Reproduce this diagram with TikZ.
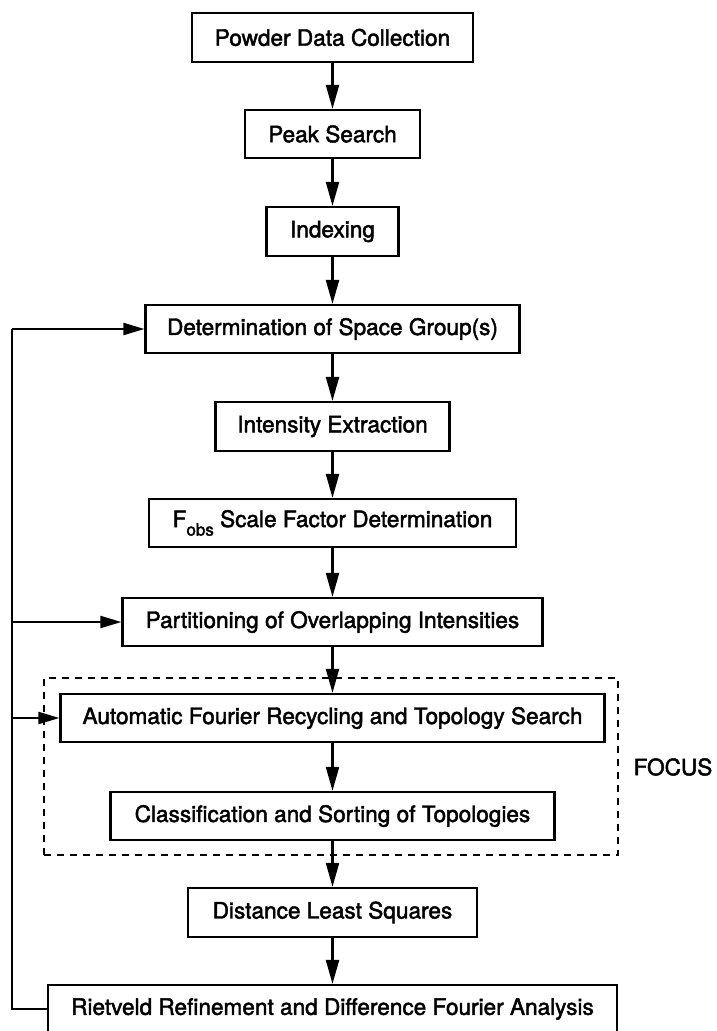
\documentclass[tikz,border=0pt]{standalone}
\usepackage{fontspec}
\setmainfont{TeX Gyre Heros}
\newfontfamily\labfont[FakeBold=2]{TeX Gyre Heros}
\usetikzlibrary{arrows.meta}
\tikzset{
  box/.style={draw=black, line width=2.2pt, inner sep=0pt, font=\labfont\fontsize{22.6}{26}\selectfont, text=black},
  focusbox/.style={draw=black, line width=1.9pt, dash pattern=on 7pt off 6pt, inner sep=0pt},
  link/.style={draw=black, line width=2.2pt},
  arr/.style={link, -{Triangle[length=24pt,width=13pt]}},
  harr/.style={link, -{Triangle[length=21pt,width=12pt]}},
  lbl/.style={font=\labfont\fontsize{22.6}{26}\selectfont, text=black, inner sep=0pt}
}
\begin{document}
\begin{tikzpicture}[x=1pt,y=-1pt]
\useasboundingbox (0,0) rectangle (717,1031);
\clip (0,0) rectangle (717,1031);
\fill[white] (0,0) rectangle (717,1031);

\node[focusbox, minimum width=574pt, minimum height=177pt] (focus) at (331,766.5) {};
\node[lbl] (focuslbl) at (673,767) {FOCUS};

\node[box, minimum width=281pt, minimum height=49pt] (pdc) at (332.5,37.5) {Powder Data Collection};
\node[box, minimum width=175pt, minimum height=48pt] (peak) at (332.5,134) {Peak Search};
\node[box, minimum width=132pt, minimum height=49pt] (idx) at (332.5,231.5) {Indexing};
\node[box, minimum width=374pt, minimum height=48pt] (dsg) at (332.5,329) {Determination of Space Group(s)};
\node[box, minimum width=234pt, minimum height=49pt] (ie) at (332.5,426.5) {Intensity Extraction};
\node[box, minimum width=367pt, minimum height=48pt] (fobs) at (332.5,523) {F\raisebox{-0.38em}{\fontsize{17}{17}\selectfont obs} Scale Factor Determination};
\node[box, minimum width=420pt, minimum height=48pt] (poi) at (332.5,622) {Partitioning of Overlapping Intensities};
\node[box, minimum width=544pt, minimum height=48pt] (afr) at (332.5,718) {Automatic Fourier Recycling and Topology Search};
\node[box, minimum width=444pt, minimum height=48pt] (cst) at (332.5,816) {Classification and Sorting of Topologies};
\node[box, minimum width=289pt, minimum height=49pt] (dls) at (332.5,912.5) {Distance Least Squares};
\node[box, minimum width=569pt, minimum height=48pt] (rr) at (332.5,1009) {Rietveld Refinement and Difference Fourier Analysis};

\draw[arr] (pdc) -- (peak);
\draw[arr] (peak) -- (idx);
\draw[arr] (idx) -- (dsg);
\draw[arr] (dsg) -- (ie);
\draw[arr] (ie) -- (fobs);
\draw[arr] (fobs) -- (poi);
\draw[arr] (poi) -- (afr);
\draw[arr] (afr) -- (cst);
\draw[arr] (cst) -- (dls);
\draw[arr] (dls) -- (rr);

\coordinate (ctop) at (12,329);
\draw[link] (rr.west) -- (rr.west -| ctop) -- (ctop);
\draw[harr] (ctop) -- (dsg.west);
\draw[harr] (poi.west -| ctop) -- (poi.west);
\draw[harr] (afr.west -| ctop) -- (afr.west);
\end{tikzpicture}
\end{document}
